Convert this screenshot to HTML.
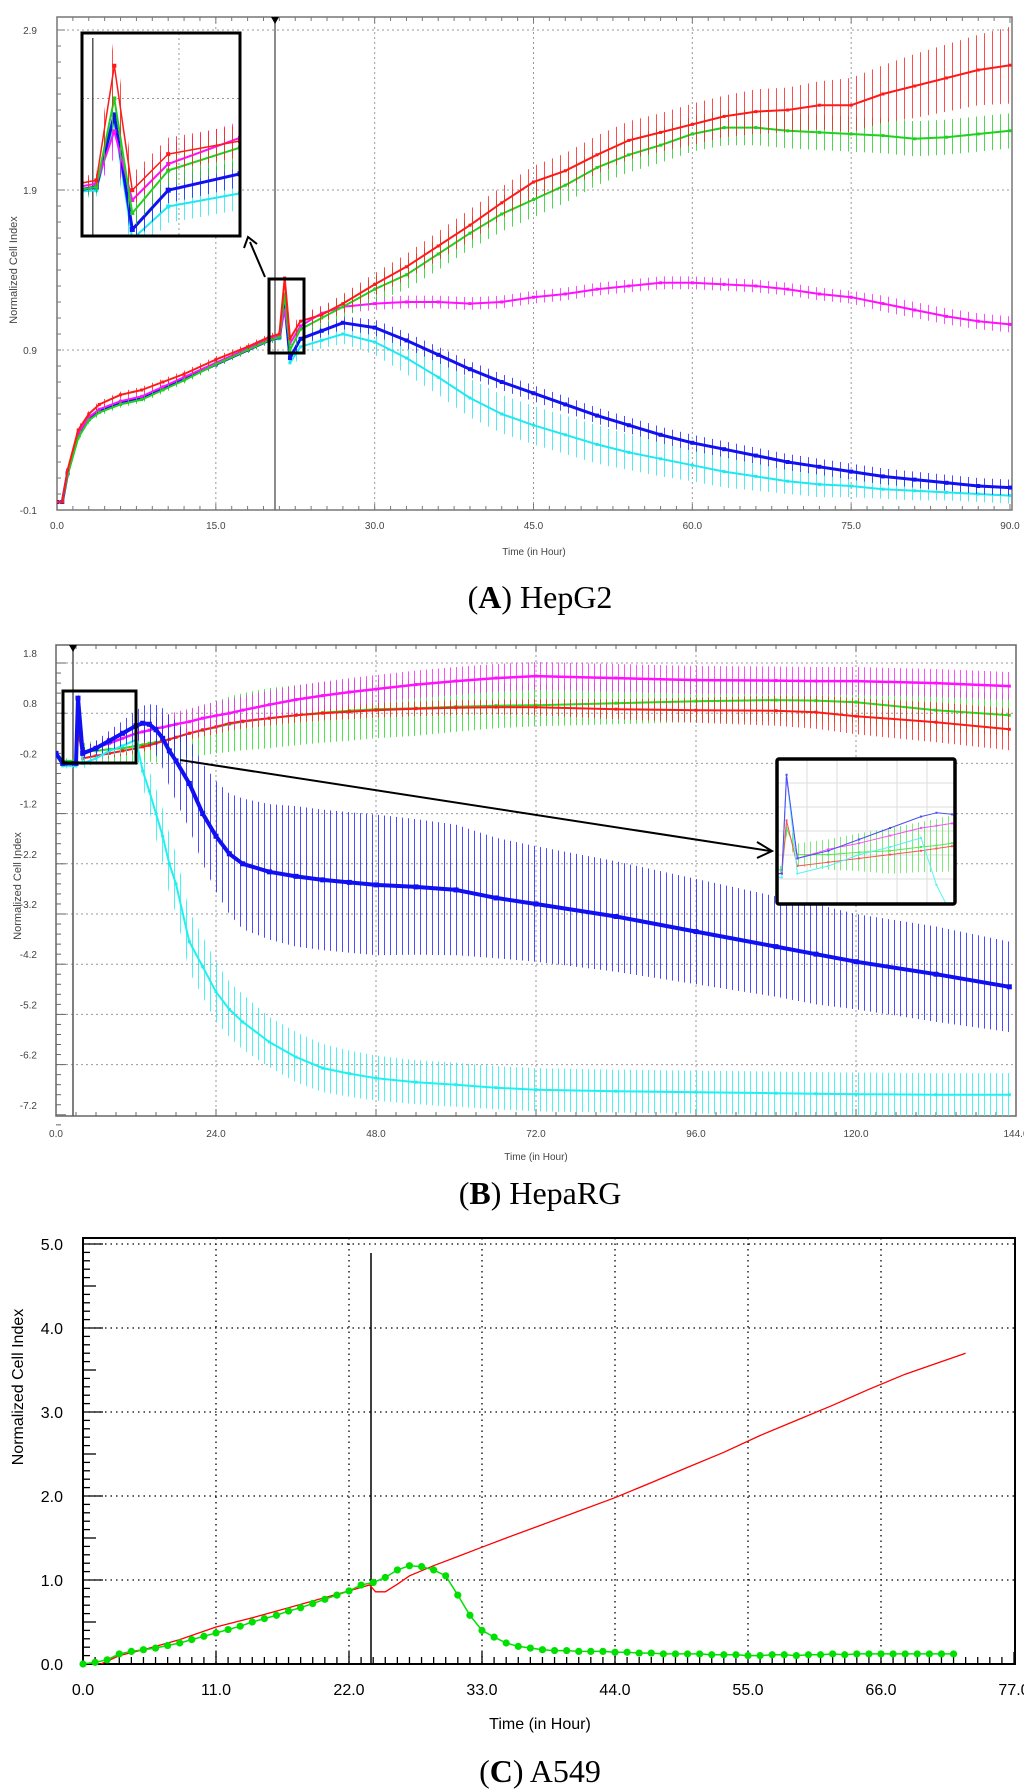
<!DOCTYPE html>
<html><head><meta charset="utf-8">
<style>
html,body{margin:0;padding:0;background:#fff;}
svg{display:block;}
text{font-family:"Liberation Sans",Arial,sans-serif;}
.cap{font-family:"Liberation Serif","Times New Roman",serif;font-size:32px;fill:#000;}
</style></head>
<body>
<svg id="fig" width="1024" height="1792" viewBox="0 0 1024 1792" xmlns="http://www.w3.org/2000/svg">
<defs id="defs"></defs>
<g id="root"></g>
<text class="cap" x="540" y="608" text-anchor="middle">(<tspan font-weight="bold">A</tspan>) HepG2</text>
<text class="cap" x="540" y="1204" text-anchor="middle">(<tspan font-weight="bold">B</tspan>) HepaRG</text>
<text class="cap" x="540" y="1782" text-anchor="middle">(<tspan font-weight="bold">C</tspan>) A549</text>
</svg>
<script>
// ---------- Panel A (HepG2) data ----------
const tA = [0,0.5,1,2,3,4,6,8,10,12,15,18,20,21,21.5,22,23,25,27,30,33,36,39,42,45,48,51,54,57,60,63,66,69,72,75,78,81,84,87,90];
const aRed = [-0.05,-0.05,0.15,0.4,0.5,0.56,0.62,0.65,0.7,0.75,0.84,0.92,0.98,1.0,1.35,0.97,1.08,1.12,1.19,1.31,1.42,1.55,1.68,1.82,1.95,2.02,2.12,2.21,2.26,2.31,2.36,2.39,2.4,2.43,2.43,2.5,2.55,2.6,2.65,2.68];
const aGreen = [-0.05,-0.05,0.12,0.35,0.46,0.51,0.56,0.59,0.65,0.71,0.81,0.9,0.96,0.98,1.25,0.9,1.03,1.1,1.17,1.28,1.37,1.5,1.63,1.75,1.84,1.93,2.04,2.12,2.18,2.25,2.29,2.29,2.27,2.26,2.25,2.24,2.22,2.23,2.25,2.27];
const aMagenta = [-0.05,-0.05,0.14,0.38,0.48,0.53,0.58,0.61,0.67,0.73,0.82,0.91,0.97,0.99,1.15,0.94,1.05,1.13,1.17,1.19,1.2,1.2,1.19,1.2,1.23,1.25,1.28,1.3,1.32,1.32,1.31,1.3,1.28,1.25,1.23,1.19,1.15,1.11,1.08,1.06];
const aBlue = [-0.05,-0.05,0.13,0.37,0.47,0.52,0.57,0.6,0.66,0.72,0.81,0.9,0.96,0.98,1.2,0.85,0.97,1.02,1.07,1.04,0.96,0.87,0.78,0.7,0.63,0.56,0.49,0.43,0.37,0.32,0.28,0.24,0.2,0.17,0.14,0.11,0.09,0.07,0.05,0.04];
const aCyan = [-0.05,-0.05,0.14,0.38,0.47,0.52,0.57,0.6,0.66,0.72,0.81,0.9,0.96,0.97,1.18,0.82,0.92,0.96,1.0,0.95,0.85,0.73,0.6,0.5,0.43,0.37,0.31,0.26,0.22,0.18,0.14,0.11,0.08,0.06,0.05,0.03,0.02,0.01,0.0,-0.01];
const aRedErr = [0,0,0.02,0.02,0.02,0.02,0.02,0.02,0.02,0.02,0.02,0.02,0.02,0.02,0.1,0.05,0.05,0.05,0.06,0.07,0.08,0.09,0.1,0.1,0.1,0.11,0.12,0.12,0.12,0.13,0.13,0.14,0.14,0.15,0.17,0.18,0.2,0.21,0.22,0.24];
const aGreenErr = [0,0,0.02,0.02,0.02,0.02,0.02,0.02,0.02,0.02,0.02,0.02,0.02,0.02,0.08,0.05,0.05,0.06,0.07,0.08,0.09,0.1,0.1,0.11,0.11,0.11,0.11,0.11,0.11,0.11,0.11,0.11,0.11,0.11,0.11,0.11,0.11,0.11,0.11,0.11];
const aMagentaErr = [0,0,0.02,0.02,0.02,0.02,0.02,0.02,0.02,0.02,0.02,0.02,0.02,0.02,0.08,0.06,0.06,0.05,0.04,0.04,0.04,0.04,0.04,0.04,0.04,0.04,0.04,0.04,0.04,0.04,0.04,0.04,0.04,0.04,0.04,0.05,0.05,0.05,0.05,0.05];
const aBlueErr = [0,0,0.02,0.02,0.02,0.02,0.02,0.02,0.02,0.02,0.02,0.02,0.02,0.02,0.08,0.05,0.04,0.04,0.04,0.05,0.05,0.05,0.05,0.05,0.05,0.05,0.05,0.05,0.05,0.05,0.05,0.05,0.05,0.05,0.05,0.05,0.05,0.05,0.05,0.05];
const aCyanErr = [0,0,0.02,0.02,0.02,0.02,0.02,0.02,0.02,0.02,0.02,0.02,0.02,0.02,0.08,0.06,0.05,0.05,0.06,0.08,0.1,0.11,0.12,0.12,0.12,0.12,0.12,0.11,0.11,0.1,0.1,0.09,0.08,0.08,0.07,0.06,0.06,0.05,0.05,0.05];
const aYTicks = [2.9,1.9,0.9,-0.1];
const aXTicks = [0,15,30,45,60,75,90];

// ---------- Panel B (HepaRG) data ----------
const tB = [0,1,3,3.3,4,6,8,10,12,13,14,15,16,17,18,20,22,24,26,28,32,36,40,44,48,54,60,66,72,84,96,108,114,120,132,143];
const bBlue = [0,-0.2,-0.2,1.1,0.0,0.1,0.25,0.4,0.55,0.6,0.58,0.47,0.3,0.05,-0.15,-0.6,-1.2,-1.65,-2.0,-2.2,-2.36,-2.45,-2.52,-2.57,-2.62,-2.66,-2.72,-2.88,-3.0,-3.25,-3.55,-3.85,-4.0,-4.15,-4.4,-4.65];
const bCyan = [0,-0.25,-0.25,1.1,-0.2,-0.1,0.05,0.15,0.27,-0.35,-0.75,-1.2,-1.65,-2.2,-2.6,-3.75,-4.25,-4.75,-5.1,-5.35,-5.75,-6.05,-6.27,-6.38,-6.47,-6.55,-6.6,-6.66,-6.7,-6.73,-6.75,-6.77,-6.78,-6.79,-6.8,-6.8];
const bMagenta = [0,-0.2,-0.2,1.05,0.0,0.12,0.2,0.3,0.4,0.43,0.46,0.5,0.52,0.55,0.58,0.63,0.7,0.75,0.8,0.86,0.97,1.07,1.15,1.22,1.28,1.37,1.44,1.5,1.54,1.5,1.46,1.45,1.44,1.44,1.4,1.34];
const bRed = [0,-0.2,-0.2,0.5,-0.1,-0.05,0.0,0.05,0.1,0.13,0.16,0.2,0.24,0.28,0.32,0.4,0.47,0.53,0.6,0.64,0.7,0.76,0.8,0.83,0.86,0.89,0.91,0.92,0.92,0.88,0.86,0.85,0.82,0.74,0.62,0.48];
const bGreen = [0,-0.15,-0.15,0.4,0.05,0.05,0.08,0.1,0.15,0.17,0.2,0.22,0.25,0.28,0.32,0.4,0.46,0.52,0.58,0.63,0.7,0.76,0.81,0.85,0.88,0.9,0.93,0.95,0.96,1.0,1.04,1.06,1.05,1.02,0.86,0.76];
const bBlueErr = [0.05,0.05,0.05,0.1,0.1,0.15,0.2,0.25,0.3,0.35,0.4,0.5,0.6,0.7,0.8,0.9,1.0,1.1,1.2,1.3,1.35,1.4,1.4,1.4,1.4,1.35,1.3,1.2,1.15,1.1,1.05,1.0,1.0,0.95,0.95,0.9];
const bCyanErr = [0.05,0.05,0.05,0.1,0.1,0.1,0.1,0.15,0.2,0.3,0.4,0.5,0.55,0.6,0.6,0.6,0.6,0.6,0.55,0.55,0.5,0.5,0.48,0.46,0.45,0.44,0.44,0.43,0.43,0.43,0.43,0.43,0.43,0.43,0.43,0.43];
const bMagentaErr = [0.05,0.05,0.05,0.1,0.1,0.12,0.15,0.18,0.2,0.2,0.22,0.22,0.24,0.24,0.25,0.26,0.27,0.28,0.28,0.28,0.28,0.28,0.28,0.28,0.28,0.28,0.28,0.28,0.28,0.28,0.28,0.28,0.28,0.28,0.28,0.28];
const bRedErr = [0.05,0.05,0.05,0.1,0.1,0.1,0.1,0.1,0.1,0.1,0.1,0.1,0.12,0.12,0.12,0.13,0.14,0.15,0.15,0.15,0.15,0.15,0.15,0.15,0.15,0.15,0.15,0.15,0.16,0.2,0.25,0.3,0.33,0.36,0.4,0.42];
const bGreenErr = [0.05,0.05,0.05,0.1,0.15,0.2,0.25,0.3,0.33,0.35,0.37,0.4,0.42,0.44,0.45,0.47,0.5,0.52,0.55,0.57,0.6,0.6,0.6,0.6,0.58,0.55,0.5,0.45,0.42,0.42,0.42,0.42,0.42,0.42,0.42,0.42];
const bYTicks = [1.8,0.8,-0.2,-1.2,-2.2,-3.2,-4.2,-5.2,-6.2,-7.2];
const bXTicks = [0,24,48,72,96,120,144];

// ---------- Panel C (A549) data ----------
const tCRed = [0,1.5,3,5,8,11,14,17,20,22,23.7,24.2,25,26,27,29,31,33,35,38,41,44,47,50,53,56,59,62,65,68,71,73];
const cRed = [0,0.0,0.1,0.17,0.29,0.44,0.55,0.67,0.79,0.87,0.94,0.86,0.86,0.95,1.05,1.17,1.28,1.39,1.5,1.66,1.82,1.98,2.16,2.34,2.52,2.72,2.9,3.08,3.27,3.45,3.6,3.7];
const tCGreen = [0,1,2,3,4,5,6,7,8,9,10,11,12,13,14,15,16,17,18,19,20,21,22,23,24,25,26,27,28,29,30,31,32,33,34,35,36,37,38,39,40,41,42,43,44,45,46,47,48,49,50,51,52,53,54,55,56,57,58,59,60,61,62,63,64,65,66,67,68,69,70,71,72];
const cGreen = [0.0,0.02,0.05,0.12,0.15,0.17,0.19,0.22,0.25,0.29,0.33,0.37,0.41,0.45,0.5,0.54,0.58,0.63,0.67,0.72,0.77,0.82,0.87,0.94,0.97,1.03,1.12,1.17,1.16,1.12,1.05,0.82,0.58,0.4,0.32,0.25,0.21,0.19,0.17,0.16,0.16,0.15,0.15,0.15,0.14,0.14,0.13,0.13,0.12,0.12,0.12,0.12,0.11,0.11,0.11,0.1,0.1,0.11,0.11,0.1,0.11,0.11,0.12,0.11,0.12,0.12,0.12,0.12,0.12,0.12,0.12,0.12,0.12];
const cYTicks = [0,1,2,3,4,5];
const cXTicks = [0,11,22,33,44,55,66,77];

// ---------- helpers ----------
const NS = "http://www.w3.org/2000/svg";
const root = document.getElementById('root');
const defs = document.getElementById('defs');
function mk(tag, attrs, parent){
  const e = document.createElementNS(NS, tag);
  for (const k in attrs) e.setAttribute(k, attrs[k]);
  (parent||root).appendChild(e);
  return e;
}
function txt(s, x, y, size, fill, anchor, parent){
  const t = mk('text', {x:x, y:y, 'font-size':size, fill:fill, 'text-anchor':anchor||'middle'}, parent);
  t.textContent = s;
  return t;
}
function hatch(id, color, w){
  const p = mk('pattern', {id:id, width:w, height:4, patternUnits:'userSpaceOnUse'}, defs);
  mk('rect', {x:0, y:0, width:1, height:4, fill:color}, p);
}
function clip(id, x, y, w, h){
  const c = mk('clipPath', {id:id}, defs);
  mk('rect', {x:x, y:y, width:w, height:h}, c);
}
function drawSeries(g, ts, vs, errs, color, hatchId, xs, ys, lw, ms, name){
  if (errs){
    let up = [], dn = [];
    for (let i=0;i<ts.length;i++){
      up.push(xs(ts[i]).toFixed(1)+','+ys(vs[i]+errs[i]).toFixed(1));
      dn.unshift(xs(ts[i]).toFixed(1)+','+ys(vs[i]-errs[i]).toFixed(1));
    }
    const band = mk('polygon', {points: up.concat(dn).join(' '), fill:'url(#'+hatchId+')', 'fill-opacity':0.8}, g);
    
    
  }
  const pts = ts.map((t,i)=> xs(t).toFixed(1)+','+ys(vs[i]).toFixed(1)).join(' ');
  const line = mk('polyline', {points:pts, fill:'none', stroke:color, 'stroke-width':lw, 'stroke-linejoin':'round'}, g);
  
  
  if (ms>0){
    for (let i=0;i<ts.length;i++){
      const m = mk('rect', {x:xs(ts[i])-ms/2, y:ys(vs[i])-ms/2, width:ms, height:ms, fill:color}, g);
      
      
    }
  }
}

// ---------- Panel A ----------
(function(){
  const L=57, R=1012, T=17, B=510;
  const xA = t => L + t*(1010-L)/90;
  const yA = v => 510 - (v+0.1)*160;
  const g = mk('g', {});
  
  
  clip('clipA', L, T, R-L, B-T);
  ['#ff2020','#20d020','#ff20ff','#2020ff','#20e8f0'].forEach((c,i)=>hatch('hA'+i, c, 8));
  // grid
  aYTicks.forEach(v=>{
    if (v>-0.1) mk('line',{x1:L,x2:R,y1:yA(v),y2:yA(v),stroke:'#999','stroke-dasharray':'2,3','stroke-width':1},g);
    const lb = txt(v.toFixed(1), 37, yA(v)+4, 10, '#444', 'end', g);
    
    
  });
  aXTicks.forEach(t=>{
    if (t>0 && t<90) mk('line',{x1:xA(t),x2:xA(t),y1:T,y2:B,stroke:'#999','stroke-dasharray':'2,3','stroke-width':1},g);
    const lb = txt(t.toFixed(1), xA(t), 529, 10, '#444', 'middle', g);
    
    
  });
  // minor ticks
  for (let t=0;t<=90.01;t+=1.5){
    const big = Math.abs(t%15)<0.01;
    mk('line',{x1:xA(t),x2:xA(t),y1:T,y2:T+(big?6:4),stroke:'#777'},g);
    mk('line',{x1:xA(t),x2:xA(t),y1:B,y2:B-(big?6:4),stroke:'#777'},g);
  }
  for (let v=-0.1; v<=2.95; v+=0.1){
    const big = Math.abs(((v+0.1)*10)%10)<0.01;
    mk('line',{x1:L,x2:L+(big?8:4),y1:yA(v),y2:yA(v),stroke:'#777'},g);
  }
  const frame = mk('rect',{x:L,y:T,width:R-L,height:B-T,fill:'none',stroke:'#777','stroke-width':1.5},g);
  
  
  // treatment marker
  mk('line',{x1:275,x2:275,y1:T,y2:B,stroke:'#666','stroke-width':1.5},g);
  mk('polygon',{points:'271,17 279,17 275,24',fill:'#000'},g);
  const sg = mk('g',{'clip-path':'url(#clipA)'},g);
  drawSeries(sg,tA,aCyan,aCyanErr,'#20e8f0','hA4',xA,yA,2,3,'hepg2-cyan');
  drawSeries(sg,tA,aBlue,aBlueErr,'#1010f0','hA3',xA,yA,3,4,'hepg2-blue');
  drawSeries(sg,tA,aMagenta,aMagentaErr,'#ff10ff','hA2',xA,yA,2,3,'hepg2-magenta');
  drawSeries(sg,tA,aGreen,aGreenErr,'#20d020','hA1',xA,yA,2,3,'hepg2-green');
  drawSeries(sg,tA,aRed,aRedErr,'#ff1a1a','hA0',xA,yA,2,3,'hepg2-red');
  // zoom box + arrow
  mk('rect',{x:269,y:279,width:35,height:74,fill:'none',stroke:'#000','stroke-width':3},g);
  mk('line',{x1:265,y1:277,x2:250,y2:242,stroke:'#000','stroke-width':2},g);
  mk('polyline',{points:'244,248 248,237 257,244',fill:'none',stroke:'#000','stroke-width':2},g);
  // inset: magnified view of same data
  const IX=82, IY=33, IW=158, IH=203;
  clip('clipAI', IX, IY, IW, IH);
  const ig = mk('g',{},g);
  
  
  mk('rect',{x:IX,y:IY,width:IW,height:IH,fill:'#fff'},ig);
  const xi = t => IX + (t-20.6)*IW/4.4;
  const yi = v => IY + (1.45-v)*IH/0.62;
  mk('line',{x1:IX,x2:IX+IW,y1:yi(1.25),y2:yi(1.25),stroke:'#999','stroke-dasharray':'2,3'},ig);
  mk('line',{x1:xi(23.3),x2:xi(23.3),y1:IY,y2:IY+IH,stroke:'#999','stroke-dasharray':'2,3'},ig);
  mk('line',{x1:xi(20.9),x2:xi(20.9),y1:IY+5,y2:IY+IH,stroke:'#555','stroke-width':1.5},ig);
  const ig2 = mk('g',{'clip-path':'url(#clipAI)'},ig);
  drawSeries(ig2,tA,aCyan,aCyanErr,'#20e8f0','hA4',xi,yi,2,4,'inset-a-cyan');
  drawSeries(ig2,tA,aBlue,aBlueErr,'#1010f0','hA3',xi,yi,3,5,'inset-a-blue');
  drawSeries(ig2,tA,aMagenta,aMagentaErr,'#ff10ff','hA2',xi,yi,2,4,'inset-a-magenta');
  drawSeries(ig2,tA,aGreen,aGreenErr,'#20d020','hA1',xi,yi,2,4,'inset-a-green');
  drawSeries(ig2,tA,aRed,aRedErr,'#ff1a1a','hA0',xi,yi,1.5,4,'inset-a-red');
  mk('rect',{x:IX,y:IY,width:IW,height:IH,fill:'none',stroke:'#000','stroke-width':3},ig);
  const yt = txt('Normalized Cell Index', 0, 0, 11, '#444', 'middle', g);
  yt.setAttribute('transform','translate(17,270) rotate(-90)');
  
  
  const xt = txt('Time (in Hour)', 534, 555, 10, '#444', 'middle', g);
  
  
})();

// ---------- Panel B ----------
(function(){
  const L=56, R=1016, T=645, B=1116;
  const xB = t => L + t*(R-L)/144;
  const yB = v => 663 + (1.8-v)*50.2;
  const g = mk('g', {});
  
  
  clip('clipB', L, T, R-L, B-T);
  ['#ff2020','#20e020','#ff20ff','#2020ff','#20f0f0'].forEach((c,i)=>hatch('hB'+i, c, 6));
  bYTicks.forEach(v=>{
    if (v>-7.2) mk('line',{x1:L,x2:R,y1:yB(v),y2:yB(v),stroke:'#999','stroke-dasharray':'2,3'},g);
    const lb = txt(v.toFixed(1), 37, yB(v)-6, 10, '#444', 'end', g);
    
    
  });
  bXTicks.forEach(t=>{
    if (t>0 && t<144) mk('line',{x1:xB(t),x2:xB(t),y1:T,y2:B,stroke:'#999','stroke-dasharray':'2,3'},g);
    const lb = txt(t.toFixed(1), xB(t), 1137, 10, '#444', 'middle', g);
    
    
  });
  for (let t=0;t<=144.01;t+=3){
    const big = Math.abs(t%24)<0.01;
    mk('line',{x1:xB(t),x2:xB(t),y1:T,y2:T+(big?7:4),stroke:'#666'},g);
    mk('line',{x1:xB(t),x2:xB(t),y1:B,y2:B-(big?7:4),stroke:'#666'},g);
  }
  for (let k=0;k<=46;k++){
    const v = 1.8 - k*0.2;
    const big = k%5===0;
    mk('line',{x1:L,x2:L+(big?10:5),y1:yB(v),y2:yB(v),stroke:'#666'},g);
  }
  const frame = mk('rect',{x:L,y:T,width:R-L,height:B-T,fill:'none',stroke:'#666','stroke-width':1.5},g);
  
  
  mk('line',{x1:73,x2:73,y1:T,y2:B,stroke:'#555','stroke-width':1.5},g);
  mk('polygon',{points:'69,645 77,645 73,652',fill:'#000'},g);
  const sg = mk('g',{'clip-path':'url(#clipB)'},g);
  drawSeries(sg,tB,bGreen,bGreenErr,'#20e020','hB1',xB,yB,2,3,'heparg-green');
  drawSeries(sg,tB,bRed,bRedErr,'#ff1a1a','hB0',xB,yB,2,3,'heparg-red');
  drawSeries(sg,tB,bMagenta,bMagentaErr,'#ff10ff','hB2',xB,yB,2.5,3,'heparg-magenta');
  drawSeries(sg,tB,bCyan,bCyanErr,'#20f0f0','hB4',xB,yB,2,3,'heparg-cyan');
  drawSeries(sg,tB,bBlue,bBlueErr,'#1010f0','hB3',xB,yB,4,5,'heparg-blue');
  mk('rect',{x:63,y:691,width:73,height:72,fill:'none',stroke:'#000','stroke-width':3},g);
  mk('line',{x1:180,y1:760,x2:770,y2:851,stroke:'#000','stroke-width':2},g);
  mk('polyline',{points:'757,842 772,851 757,858',fill:'none',stroke:'#000','stroke-width':2},g);
  // inset
  const IX=777, IY=759, IW=178, IH=145;
  clip('clipBI', IX, IY, IW, IH);
  const ig = mk('g',{},g);
  
  
  mk('rect',{x:IX,y:IY,width:IW,height:IH,fill:'#fff'},ig);
  const xi = t => IX + 8 + (t-3.2)*(IW-8)/11;
  const yi = v => IY + 12 + (1.15-v)*(IH-12)/1.75;
  for (let k=1;k<6;k++){
    mk('line',{x1:IX,x2:IX+IW,y1:IY+k*24,y2:IY+k*24,stroke:'#ddd'},ig);
    mk('line',{x1:IX+k*30,x2:IX+k*30,y1:IY,y2:IY+IH,stroke:'#ddd'},ig);
  }
  const ig2 = mk('g',{'clip-path':'url(#clipBI)','opacity':0.75},ig);
  drawSeries(ig2,tB,bGreen,bGreenErr,'#20e020','hB1',xi,yi,1,2,'inset-b-green');
  drawSeries(ig2,tB,bRed,null,'#ff1a1a','hB0',xi,yi,1,2,'inset-b-red');
  drawSeries(ig2,tB,bMagenta,null,'#ff10ff','hB2',xi,yi,1,2,'inset-b-magenta');
  drawSeries(ig2,tB,bCyan,null,'#20f0f0','hB4',xi,yi,1,2,'inset-b-cyan');
  drawSeries(ig2,tB,bBlue,null,'#1010f0','hB3',xi,yi,1,2,'inset-b-blue');
  mk('rect',{x:IX,y:IY,width:IW,height:IH,fill:'none',stroke:'#000','stroke-width':3.5,rx:2},ig);
  const yt = txt('Normalized Cell Index', 0, 0, 11, '#444', 'middle', g);
  yt.setAttribute('transform','translate(21,886) rotate(-90)');
  
  
  const xt = txt('Time (in Hour)', 536, 1160, 10, '#444', 'middle', g);
  
  
})();

// ---------- Panel C ----------
(function(){
  const L=83, R=1015, T=1238, B=1664;
  const xC = t => L + t*(1014-L)/77;
  const yC = v => 1664 - v*84;
  const g = mk('g', {});
  
  
  clip('clipC', L, T, R-L, B-T);
  cYTicks.forEach(v=>{
    if (v>0) mk('line',{x1:L,x2:R,y1:yC(v),y2:yC(v),stroke:'#000','stroke-dasharray':'1.5,4','stroke-width':1.3},g);
    const lb = txt(v.toFixed(1), 63, yC(v)+6, 16, '#000', 'end', g);
    
    
  });
  cXTicks.forEach(t=>{
    if (t>0 && t<77) mk('line',{x1:xC(t),x2:xC(t),y1:T,y2:B,stroke:'#000','stroke-dasharray':'1.5,4','stroke-width':1.3},g);
    const lb = txt(t.toFixed(1), xC(t), 1695, 16, '#000', 'middle', g);
    
    
  });
  for (let t=0;t<=77;t+=1){
    const big = t%11===0;
    mk('line',{x1:xC(t),x2:xC(t),y1:B,y2:B-(big?12:7),stroke:'#000','stroke-width':1.3},g);
  }
  for (let k=0;k<=50;k++){
    const len = k%10===0 ? 20 : (k%5===0 ? 13 : 7);
    mk('line',{x1:L,x2:L+len,y1:yC(k*0.1),y2:yC(k*0.1),stroke:'#000','stroke-width':1.3},g);
  }
  const frame = mk('rect',{x:L,y:T,width:R-L,height:B-T,fill:'none',stroke:'#000','stroke-width':2},g);
  
  
  mk('line',{x1:371,x2:371,y1:1253,y2:B,stroke:'#000','stroke-width':1.5},g);
  const sg = mk('g',{'clip-path':'url(#clipC)'},g);
  const rl = mk('polyline',{points:tCRed.map((t,i)=>xC(t).toFixed(1)+','+yC(cRed[i]).toFixed(1)).join(' '),fill:'none',stroke:'#ff0000','stroke-width':1.3},sg);
  
  
  const gl = mk('polyline',{points:tCGreen.map((t,i)=>xC(t).toFixed(1)+','+yC(cGreen[i]).toFixed(1)).join(' '),fill:'none',stroke:'#00e000','stroke-width':1.5},sg);
  
  
  tCGreen.forEach((t,i)=>{
    const c = mk('circle',{cx:xC(t),cy:yC(cGreen[i]),r:3.6,fill:'#00e000'},g);
    
    
  });
  const yt = txt('Normalized Cell Index', 0, 0, 16, '#000', 'middle', g);
  yt.setAttribute('transform','translate(23,1387) rotate(-90)');
  
  
  const xt = txt('Time (in Hour)', 540, 1729, 16, '#000', 'middle', g);
  
  
})();
</script>
</body></html>
